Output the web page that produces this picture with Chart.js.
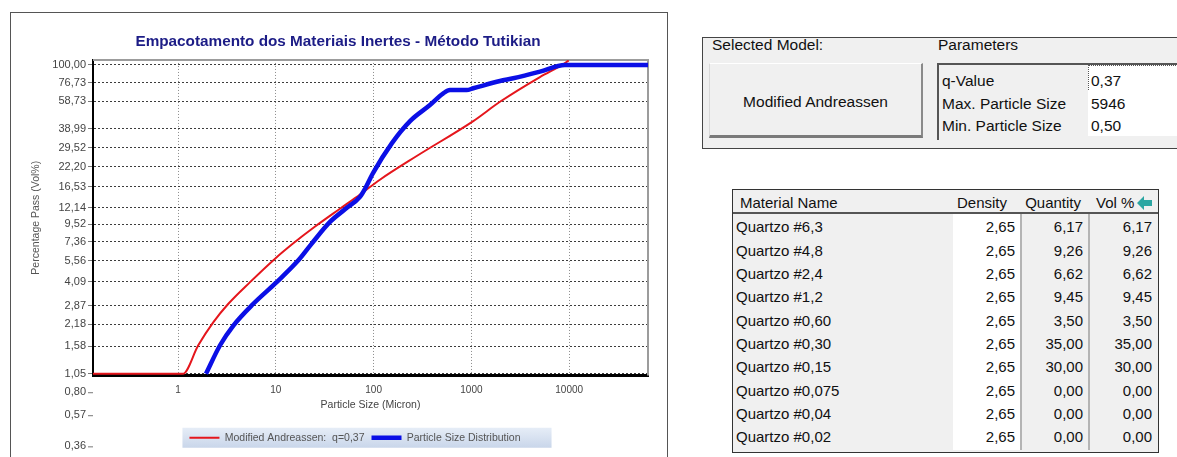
<!DOCTYPE html>
<html>
<head>
<meta charset="utf-8">
<title>Empacotamento dos Materiais Inertes</title>
<script src="https://cdn.jsdelivr.net/npm/chart.js@4.4.1/dist/chart.umd.min.js"></script>
<style>
  html, body { margin: 0; padding: 0; }
  body { width: 1177px; height: 457px; overflow: hidden; background: #fff; position: relative;
         font-family: "Liberation Sans", Arial, sans-serif; color: #111; }
  .abs { position: absolute; white-space: nowrap; line-height: 1; }
  #chartWrap { position: absolute; left: 10px; top: 12px; width: 657px; height: 445px; }
  #chartFrame { position: absolute; left: 10px; top: 12px; width: 656px; height: 470px;
                border: 1px solid #555; pointer-events: none; }
  #modelPanel { position: absolute; left: 702px; top: 37px; width: 520px; height: 110px;
                border: 1px solid #444; background: #f0f0f0; }
  #modelBtn { position: absolute; left: 709px; top: 63px; width: 211px; height: 71px; background: #f0f0f0;
              border-top: 1px solid #fff; border-left: 1px solid #d8d8d8;
              border-right: 2px solid #8a8a8a; border-bottom: 3px solid #7a7a7a; }
  #paramGrid { position: absolute; left: 937px; top: 63px; width: 260px; height: 75px;
               border-left: 2px solid #555; border-top: 2px solid #555; background: #f0f0f0; }
  .valCell { position: absolute; left: 1088px; width: 100px; height: 23px; background: #fff; }
  #matTable { position: absolute; left: 732px; top: 189px; width: 425px; height: 262px;
              border: 1px solid #333; background: #f0f0f0; }
  #matHead { position: absolute; left: 733px; top: 190px; width: 425px; height: 22px;
             background: #f0f0f0; border-bottom: 2px solid #555; }
  .colWhite { position: absolute; left: 953px; top: 214px; width: 68px; height: 236px; background: #fff; }
  .colSep { position: absolute; top: 214px; width: 2px; height: 236px; background: #b4b4b4; }
</style>
</head>
<body>

<div id="chartWrap"><canvas id="psdChart" width="657" height="445"></canvas></div>
<div id="chartFrame"></div>

<div id="modelPanel"></div>
<div class="abs" style="left:712px;top:37px;font-size:15.5px;">Selected Model:</div>
<div class="abs" style="left:938px;top:37px;font-size:15.5px;">Parameters</div>
<div id="modelBtn"></div>
<div class="abs" style="left:709px;top:94px;width:213px;text-align:center;font-size:15.5px;">Modified Andreassen</div>
<div id="paramGrid"></div>
<div id="params"></div>

<div id="matTable"></div>
<div id="matHead"></div>
<div class="colWhite"></div>
<div class="colSep" style="left:1020px;"></div>
<div class="colSep" style="left:1088px;"></div>
<div id="matRows"></div>

<script>
// ---- chart data ----
const andreassenSize = [0.135, 1.12, 1.61, 2.30, 3.27, 5.45, 9.82, 15.1, 25.2, 45.3, 72.6, 116, 276, 1045, 1960, 5025, 8440, 9900];
const andreassenPass = [1.05, 1.05, 1.60, 2.25, 2.95, 4.06, 5.74, 7.20, 9.22, 12.0, 14.8, 18.4, 26.1, 43.7, 58.1, 83.7, 100, 107];

const psdSize = [1.93, 2.69, 3.68, 5.89, 10.2, 17.0, 23.3, 35.8, 51.0, 72.6, 81.7, 98.6, 154, 236, 377, 516, 604, 895, 1045, 1960, 2680, 5025, 9060, 64000];
const psdPass = [1.05, 1.60, 2.14, 2.95, 4.06, 5.60, 7.17, 9.87, 11.9, 14.3, 16.1, 20.3, 31.6, 43.7, 55.4, 65.8, 69.1, 69.1, 70.9, 78.9, 82.2, 90.6, 100, 100];

const yTickValues = [100, 76.73, 58.73, 38.99, 29.52, 22.20, 16.53, 12.14, 9.52, 7.36, 5.56, 4.09, 2.87, 2.18, 1.58, 1.05];
const yExtraTicks = [0.80, 0.57, 0.36];   // labels the original prints below the x axis
const xTickValues = [1, 10, 100, 1000, 10000];

const legendLabels = ['Modified Andreassen:  q=0,37', 'Particle Size Distribution'];

// ---- side panels ----
const paramNames = ['q-Value', 'Max. Particle Size', 'Min. Particle Size'];
const paramValues = ['0,37', '5946', '0,50'];

const materialNames = ['Quartzo #6,3', 'Quartzo #4,8', 'Quartzo #2,4', 'Quartzo #1,2', 'Quartzo #0,60',
  'Quartzo #0,30', 'Quartzo #0,15', 'Quartzo #0,075', 'Quartzo #0,04', 'Quartzo #0,02'];
const materialDensity = [2.65, 2.65, 2.65, 2.65, 2.65, 2.65, 2.65, 2.65, 2.65, 2.65];
const materialQuantity = [6.17, 9.26, 6.62, 9.45, 3.50, 35.00, 30.00, 0.00, 0.00, 0.00];
const materialVol = [6.17, 9.26, 6.62, 9.45, 3.50, 35.00, 30.00, 0.00, 0.00, 0.00];

const fmt = v => v.toFixed(2).replace('.', ',');
const FONT = '"Liberation Sans", Arial, sans-serif';

// parameters grid
const rowTops = [65, 88, 111];
document.getElementById('params').innerHTML = paramNames.map((name, i) => `
  <div class="valCell" style="top:${rowTops[i] + 2}px;${i === 0 ? 'border:1px dotted #555;height:25px;top:65px;' : ''}"></div>
  <div class="abs" style="left:942px;top:${73 + i * 22.5}px;font-size:15.5px;">${name}</div>
  <div class="abs" style="left:1091px;top:${73 + i * 22.5}px;font-size:15.5px;">${paramValues[i]}</div>
`).join('');

// material table
const rowHtml = [`
  <div class="abs" style="left:740px;top:195px;font-size:15px;">Material Name</div>
  <div class="abs" style="left:900px;width:107px;text-align:right;top:195px;font-size:15px;">Density</div>
  <div class="abs" style="left:990px;width:91px;text-align:right;top:195px;font-size:15px;">Quantity</div>
  <div class="abs" style="left:1096px;top:195px;font-size:15px;">Vol %</div>
  <svg class="abs" style="left:1137px;top:196px;" width="16" height="14" viewBox="0 0 16 14">
    <polygon points="0,7 7,0 7,4 15,4 15,10 7,10 7,14" fill="#2ba6a2"/>
  </svg>`];
materialNames.forEach((name, i) => {
  const top = 219.2 + i * 23.33;
  rowHtml.push(`
    <div class="abs" style="left:736px;top:${top}px;font-size:15px;">${name}</div>
    <div class="abs" style="left:955px;width:60px;text-align:right;top:${top}px;font-size:15px;">${fmt(materialDensity[i])}</div>
    <div class="abs" style="left:1023px;width:60px;text-align:right;top:${top}px;font-size:15px;">${fmt(materialQuantity[i])}</div>
    <div class="abs" style="left:1091px;width:61px;text-align:right;top:${top}px;font-size:15px;">${fmt(materialVol[i])}</div>`);
});
document.getElementById('matRows').innerHTML = rowHtml.join('');

// ---- chart ----
const plotDecor = {
  id: 'plotDecor',
  afterLayout(chart) {
    // in the original the title and legend strip sit a little right of centre
    chart.titleBlock.left += 9;
    chart.titleBlock.right += 9;
    chart.legend.left += 26;
    chart.legend.right += 26;
  },
  beforeDraw(chart) {
    const boxes = chart.legend.legendHitBoxes;
    if (!boxes || !boxes.length) return;
    const first = boxes[0], last = boxes[boxes.length - 1];
    const x0 = first.left - 7, x1 = last.left + last.width + 31;
    const cy = first.top + first.height / 2;
    const c = chart.ctx;
    const g = c.createLinearGradient(0, cy - 10, 0, cy + 10);
    g.addColorStop(0, '#e6edf7');
    g.addColorStop(1, '#c9d6ea');
    c.save();
    c.fillStyle = g;
    c.fillRect(x0, cy - 10, x1 - x0, 20);
    c.restore();
  },
  beforeDatasetsDraw(chart) {
    const {ctx: c, chartArea: a} = chart;
    c.save();
    c.strokeStyle = '#9c9c9c';
    c.lineWidth = 2;
    c.beginPath();
    c.moveTo(a.left, a.top);
    c.lineTo(a.right, a.top);
    c.lineTo(a.right, a.bottom);
    c.stroke();
    c.restore();
  },
  afterDraw(chart) {
    const {ctx: c, chartArea: a} = chart;
    const y = chart.scales.y;
    c.save();
    c.font = '11px ' + FONT;
    c.fillStyle = '#444';
    c.strokeStyle = '#777';
    c.lineWidth = 1;
    c.textAlign = 'right';
    c.textBaseline = 'middle';
    yExtraTicks.forEach(v => {
      const py = y.getPixelForValue(v);
      c.fillText(fmt(v), a.left - 7, py);
      c.beginPath();
      c.moveTo(a.left - 5, py + 0.5);
      c.lineTo(a.left, py + 0.5);
      c.stroke();
    });
    c.restore();
  }
};

new Chart(document.getElementById('psdChart'), {
  type: 'line',
  data: {
    datasets: [
      {
        label: legendLabels[0],
        data: andreassenSize.map((x, i) => ({x, y: andreassenPass[i]})),
        borderColor: '#e5161c',
        backgroundColor: '#e5161c',
        borderWidth: 2,
        pointRadius: 0,
        cubicInterpolationMode: 'monotone',
        order: 1
      },
      {
        label: legendLabels[1],
        data: psdSize.map((x, i) => ({x, y: psdPass[i]})),
        borderColor: '#0b0fe6',
        backgroundColor: '#0b0fe6',
        borderWidth: 4.5,
        pointRadius: 0,
        cubicInterpolationMode: 'monotone',
        order: 0
      }
    ]
  },
  options: {
    responsive: false,
    devicePixelRatio: 1,
    animation: false,
    layout: { padding: { left: 0, right: 19, top: 0, bottom: 4 } },
    plugins: {
      title: {
        display: true,
        text: 'Empacotamento dos Materiais Inertes - Método Tutikian',
        color: '#1c1c86',
        font: { family: FONT, size: 15.3, weight: 'bold' },
        padding: { top: 20.8, bottom: 8.8 }
      },
      legend: {
        position: 'bottom',
        labels: {
          usePointStyle: true,
          pointStyle: 'line',
          pointStyleWidth: 30,
          boxWidth: 30,
          color: '#555',
          font: { family: FONT, size: 10.5 },
          padding: 7,
          sort: (a, b) => a.datasetIndex - b.datasetIndex
        }
      },
      tooltip: { enabled: false }
    },
    scales: {
      x: {
        type: 'logarithmic',
        min: 0.135,
        max: 64000,
        afterBuildTicks: s => { s.ticks = xTickValues.map(v => ({value: v})); },
        afterFit: s => { s.height = 50; },
        ticks: {
          autoSkip: false,
          maxRotation: 0,
          padding: 9,
          color: '#444',
          font: { family: FONT, size: 10 },
          callback: v => String(v)
        },
        grid: { color: '#8c8c8c', drawTicks: false },
        border: { display: true, color: '#000', width: 3, dash: [1, 2] },
        title: {
          display: true,
          text: 'Particle Size (Micron)',
          color: '#444',
          font: { family: FONT, size: 10.5 },
          padding: { top: 0, bottom: 13.7 }
        }
      },
      y: {
        type: 'logarithmic',
        min: 1.024,
        max: 107.7,
        afterBuildTicks: s => { s.ticks = yTickValues.map(v => ({value: v})); },
        afterFit: s => { s.width = 83; },
        ticks: {
          autoSkip: false,
          padding: 2,
          color: '#444',
          font: { family: FONT, size: 11 },
          callback: v => fmt(v)
        },
        grid: { color: '#3c3c3c', tickLength: 5, tickColor: '#777', tickBorderDash: [] },
        border: { display: true, color: '#000', width: 2, dash: [2, 2] },
        title: {
          display: true,
          text: 'Percentage Pass (Vol%)',
          color: '#555',
          font: { family: FONT, size: 10.5 },
          padding: { top: 20, bottom: 0 }
        }
      }
    }
  },
  plugins: [plotDecor]
});
</script>
</body>
</html>
